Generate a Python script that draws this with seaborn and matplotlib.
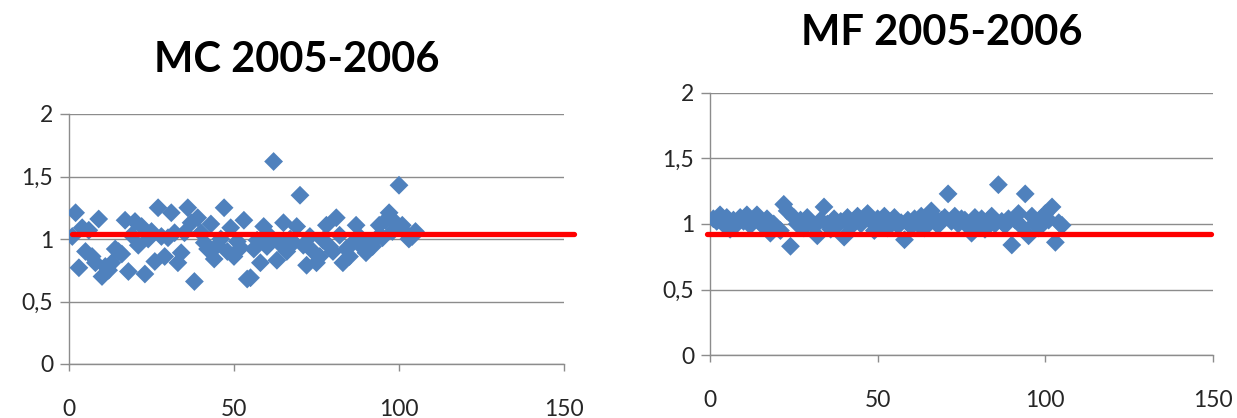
import matplotlib
matplotlib.use("Agg")
import matplotlib.pyplot as plt
import seaborn as sns

# Sample index shared by both series
sample_index = list(range(1, 106))

# MC 2005-2006 ratios
mc_values = [
    1.02, 1.21, 0.77, 1.09, 0.90, 1.07, 0.86, 0.81, 1.16, 0.70,
    0.78, 0.75, 0.81, 0.92, 0.90, 0.88, 1.15, 0.74, 1.03, 1.14,
    0.95, 1.10, 0.72, 1.00, 1.06, 0.82, 1.25, 1.02, 0.86, 1.01,
    1.21, 1.05, 0.81, 0.89, 1.05, 1.25, 1.13, 0.66, 1.17, 1.05,
    0.97, 0.92, 1.12, 0.84, 0.95, 1.00, 1.25, 0.90, 1.09, 0.86,
    0.98, 0.93, 1.15, 0.68, 0.69, 0.92, 0.99, 0.81, 1.10, 0.94,
    1.02, 1.62, 0.83, 0.96, 1.13, 0.90, 1.00, 0.97, 1.10, 1.35,
    0.95, 0.79, 1.02, 0.90, 0.81, 0.86, 0.99, 1.11, 0.94, 0.90,
    1.17, 1.03, 0.81, 0.92, 0.86, 0.97, 1.11, 1.02, 0.93, 0.89,
    0.96, 0.94, 1.00, 1.11, 1.01, 1.15, 1.21, 1.06, 1.13, 1.43,
    1.11, 1.05, 1.00, 1.02, 1.06,
]

# MF 2005-2006 ratios
mf_values = [
    1.04, 1.02, 1.07, 1.00, 1.05, 0.96, 1.03, 1.00, 1.05, 1.02,
    1.07, 0.99, 1.03, 1.07, 1.01, 0.98, 1.04, 0.93, 1.00, 0.97,
    0.95, 1.15, 1.10, 0.83, 1.05, 1.00, 1.03, 0.97, 1.05, 1.01,
    0.98, 0.91, 1.03, 1.13, 1.00, 0.96, 1.04, 0.99, 1.02, 0.90,
    1.05, 0.98, 1.03, 1.06, 1.00, 1.05, 1.08, 1.02, 0.95, 1.04,
    1.00, 1.06, 0.97, 1.02, 1.05, 0.99, 1.01, 0.88, 1.03, 0.98,
    1.04, 1.00, 1.06, 0.97, 1.02, 1.10, 1.05, 0.99, 1.03, 1.05,
    1.23, 1.02, 1.06, 1.00, 1.04, 1.03, 0.98, 0.93, 1.05, 1.01,
    1.04, 0.96, 1.03, 1.06, 1.00, 1.30, 1.02, 0.99, 1.04, 0.84,
    1.03, 1.08, 0.98, 1.23, 0.91, 1.06, 1.01, 0.97, 1.05, 1.08,
    1.03, 1.13, 0.86, 1.01, 0.99,
]

# Reference levels (red lines) and their horizontal extent
mc_level = 1.04
mf_level = 0.92
mc_line_x = [1, 153]
mf_line_x = [-1, 149.5]

titles = ["MC 2005-2006", "MF 2005-2006"]
x_ticks = [0, 50, 100, 150]
y_ticks = [0, 0.5, 1, 1.5, 2]
y_labels = ["0", "0,5", "1", "1,5", "2"]

BLUE = "#4F81BD"
GRID = "#8C8C8C"

sns.set_theme(style="white")
plt.rcParams["font.family"] = ["Lato", "DejaVu Sans"]

W, H = 1237, 418
fig = plt.figure(figsize=(W / 100, H / 100), dpi=100)
fig.patch.set_facecolor("white")

ax_mc = fig.add_axes([69 / W, 54 / H, 495 / W, 250 / H])
ax_mf = fig.add_axes([710 / W, 63 / H, 503 / W, 262 / H])


def draw_panel(ax, values, level, line_x):
    sns.scatterplot(x=sample_index, y=values, ax=ax, marker="D", s=92,
                    color=BLUE, edgecolor="none", linewidth=0, zorder=3)
    sns.lineplot(x=line_x, y=[level] * len(line_x), ax=ax, color="#FF0000",
                 linewidth=3.8, zorder=4)
    for ln in ax.get_lines():
        ln.set_clip_on(False)

    ax.set_xlim(0, 150)
    ax.set_ylim(0, 2)
    ax.set_xticks(x_ticks)
    ax.set_xticklabels([str(t) for t in x_ticks])
    ax.set_yticks(y_ticks)
    ax.set_yticklabels(y_labels)
    ax.set_xlabel("")
    ax.set_ylabel("")

    ax.yaxis.grid(True, color=GRID, linewidth=1.0)
    ax.xaxis.grid(False)
    ax.set_axisbelow(True)

    for side in ("top", "right"):
        ax.spines[side].set_visible(False)
    for side in ("left", "bottom"):
        ax.spines[side].set_color(GRID)
        ax.spines[side].set_linewidth(1.0)

    ax.tick_params(axis="y", direction="out", length=6.5, width=1.0,
                   color=GRID, pad=5, labelsize=16.5, labelcolor="#262626",
                   left=True)
    ax.tick_params(axis="x", direction="out", length=5, width=1.0,
                   color=GRID, pad=20, labelsize=16.5, labelcolor="#262626",
                   bottom=True)


draw_panel(ax_mc, mc_values, mc_level, mc_line_x)
draw_panel(ax_mf, mf_values, mf_level, mf_line_x)

fig.text(297 / W, 1 - 60 / H, titles[0], ha="center", va="center",
         fontsize=30, fontweight="bold", color="black")
fig.text(942 / W, 1 - 33 / H, titles[1], ha="center", va="center",
         fontsize=30, fontweight="bold", color="black")

fig.savefig("out.png", dpi=100, facecolor="white")
